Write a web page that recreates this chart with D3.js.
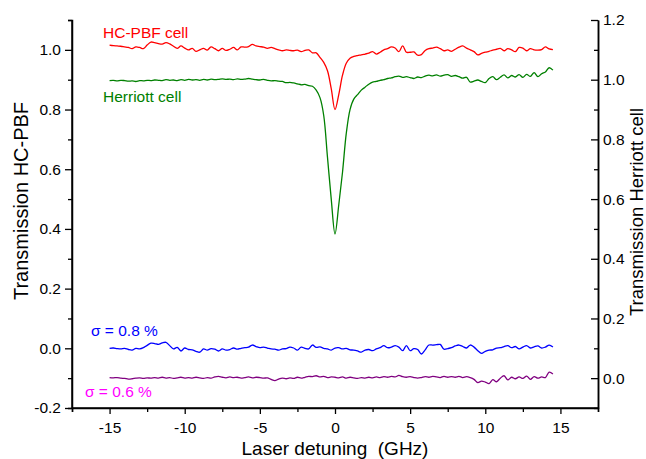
<!DOCTYPE html>
<html>
<head>
<meta charset="utf-8">
<script src="https://cdn.jsdelivr.net/npm/d3@7"></script>
<style>
  body { margin: 0; background: #fff; }
  svg { font-family: Arial, "Liberation Sans", sans-serif; }
</style>
</head>
<body>
<svg id="chart" width="646" height="459"></svg>
<script>

////// data //////

var detuning = [
  -15, -14.75, -14.5, -14.25, -14, -13.75, -13.5, -13.25,
  -13, -12.75, -12.5, -12.25, -12, -11.75, -11.5, -11.25,
  -11, -10.75, -10.5, -10.25, -10, -9.75, -9.5, -9.25,
  -9, -8.75, -8.5, -8.25, -8, -7.75, -7.5, -7.25,
  -7, -6.75, -6.5, -6.25, -6, -5.75, -5.5, -5.25,
  -5, -4.75, -4.5, -4.25, -4, -3.75, -3.5, -3.25,
  -3, -2.75, -2.5, -2.25, -2, -1.75, -1.5, -1.25,
  -1, -0.75, -0.5, -0.25, 0, 0.25, 0.5, 0.75,
  1, 1.25, 1.5, 1.75, 2, 2.25, 2.5, 2.75,
  3, 3.25, 3.5, 3.75, 4, 4.25, 4.5, 4.75,
  5, 5.25, 5.5, 5.75, 6, 6.25, 6.5, 6.75,
  7, 7.25, 7.5, 7.75, 8, 8.25, 8.5, 8.75,
  9, 9.25, 9.5, 9.75, 10, 10.25, 10.5, 10.75,
  11, 11.25, 11.5, 11.75, 12, 12.25, 12.5, 12.75,
  13, 13.25, 13.5, 13.75, 14, 14.25, 14.5
];

// HC-PBF cell transmission (left axis)
var hcpbf = [
  1.016, 1.014, 1.013, 1.012, 1.010, 1.008, 1.004, 1.010,
  1.008, 1.004, 1.016, 1.026, 1.024, 1.021, 1.019, 1.024,
  1.020, 1.012, 1.005, 1.013, 1.006, 1.000, 1.005, 0.995,
  1.000, 1.005, 0.999, 1.010, 1.004, 0.997, 1.005, 0.998,
  1.002, 1.008, 1.000, 1.010, 1.009, 1.011, 1.018, 1.013,
  1.011, 1.009, 1.005, 1.008, 1.004, 1.000, 0.997, 1.000,
  0.998, 0.997, 0.999, 0.994, 0.998, 1.000, 0.990, 0.990,
  0.975, 0.958, 0.930, 0.870, 0.800, 0.850, 0.915, 0.955,
  0.972, 0.978, 0.981, 0.983, 0.986, 0.989, 0.994, 0.986,
  0.992, 1.000, 1.004, 1.010, 1.006, 0.994, 1.013, 0.992,
  0.992, 0.993, 0.982, 0.984, 0.998, 1.004, 1.006, 1.009,
  1.004, 0.997, 1.000, 0.995, 1.002, 1.009, 1.013, 1.006,
  1.000, 0.994, 0.983, 0.988, 0.992, 0.995, 0.999, 1.002,
  1.005, 0.997, 1.004, 1.000, 0.994, 1.008, 1.006, 0.997,
  1.004, 1.000, 0.999, 1.001, 1.010, 1.003, 1.001
];

// Herriott cell transmission (right axis)
var herriott = [
  0.997, 0.998, 0.996, 0.998, 0.997, 0.995, 0.996, 0.994,
  0.997, 0.996, 0.998, 0.997, 0.999, 0.998, 0.997, 1.000,
  0.998, 0.999, 0.997, 1.000, 0.998, 1.001, 0.999, 1.000,
  0.998, 1.001, 0.999, 1.002, 1.000, 1.001, 1.003, 1.001,
  1.002, 1.000, 1.003, 1.001, 1.002, 1.004, 1.002, 1.000,
  0.999, 1.001, 0.998, 0.996, 0.997, 0.995, 0.994, 0.990,
  0.991, 0.989, 0.986, 0.983, 0.984, 0.980, 0.978, 0.965,
  0.940, 0.880, 0.740, 0.600, 0.483, 0.580, 0.690, 0.820,
  0.900, 0.935, 0.950, 0.965, 0.975, 0.985, 0.992, 0.994,
  0.998, 1.000, 1.004, 1.006, 1.010, 1.012, 1.008, 1.010,
  1.007, 1.004, 1.009, 1.007, 1.012, 1.015, 1.013, 1.016,
  1.012, 1.015, 1.017, 1.011, 1.014, 1.010, 1.005, 1.008,
  0.992, 0.995, 0.999, 0.994, 0.990, 1.004, 1.010, 1.000,
  1.008, 1.016, 1.006, 1.014, 1.009, 1.017, 1.008, 1.018,
  1.011, 1.024, 1.010, 1.020, 1.026, 1.040, 1.032
];

// residual HC-PBF (left axis, sigma = 0.8 %)
var residualHC = [
  0.000, 0.001, -0.001, -0.002, 0.000, -0.004, -0.006, 0.000,
  -0.002, 0.002, 0.010, 0.017, 0.016, 0.013, 0.018, 0.020,
  0.009, -0.002, 0.003, -0.009, 0.001, -0.004, -0.005, -0.010,
  -0.013, -0.002, -0.006, -0.001, -0.003, -0.009, -0.002, -0.006,
  -0.004, 0.001, -0.003, 0.000, 0.002, 0.004, 0.011, 0.006,
  0.002, 0.004, 0.001, -0.002, -0.003, -0.006, -0.002, -0.001,
  0.004, 0.001, -0.006, 0.004, 0.000, -0.002, 0.011, 0.003,
  0.005, 0.000, -0.002, -0.006, 0.001, 0.002, -0.002, 0.000,
  -0.005, -0.006, -0.009, -0.013, -0.006, -0.004, -0.008, -0.002,
  0.002, 0.009, 0.002, 0.004, 0.009, 0.004, -0.008, 0.009,
  -0.008, -0.001, -0.004, -0.019, -0.005, 0.011, 0.011, 0.012,
  0.013, -0.003, -0.001, 0.002, 0.008, 0.011, 0.006, 0.001,
  0.011, 0.004, -0.008, -0.017, -0.010, -0.006, -0.005, 0.001,
  0.002, 0.006, 0.009, 0.002, 0.006, -0.002, 0.004, 0.009,
  0.001, 0.005, 0.008, 0.001, 0.004, 0.011, 0.004
];

// residual Herriott (left axis, sigma = 0.6 %)
var residualHer = [
  -0.098, -0.099, -0.098, -0.100, -0.101, -0.103, -0.102, -0.100,
  -0.099, -0.101, -0.099, -0.100, -0.098, -0.100, -0.097, -0.100,
  -0.098, -0.101, -0.099, -0.097, -0.100, -0.098, -0.100, -0.097,
  -0.099, -0.101, -0.098, -0.100, -0.096, -0.094, -0.097, -0.099,
  -0.096, -0.098, -0.097, -0.100, -0.098, -0.096, -0.099, -0.097,
  -0.098, -0.100, -0.099, -0.104, -0.108, -0.103, -0.100, -0.102,
  -0.099, -0.101, -0.097, -0.100, -0.097, -0.094, -0.095, -0.092,
  -0.096, -0.094, -0.098, -0.096, -0.097, -0.099, -0.096, -0.100,
  -0.097, -0.099, -0.101, -0.098, -0.100, -0.097, -0.099, -0.096,
  -0.098, -0.095, -0.097, -0.094, -0.096, -0.091, -0.095, -0.097,
  -0.095, -0.098, -0.100, -0.098, -0.095, -0.097, -0.094, -0.096,
  -0.098, -0.094, -0.097, -0.095, -0.097, -0.094, -0.098, -0.095,
  -0.098, -0.104, -0.115, -0.110, -0.113, -0.118, -0.105, -0.112,
  -0.100, -0.092, -0.106, -0.097, -0.102, -0.096, -0.101, -0.093,
  -0.104, -0.095, -0.100, -0.096, -0.098, -0.080, -0.086
];

var xTicks = [-15, -10, -5, 0, 5, 10, 15];
var xMinor = [-17.5, -12.5, -7.5, -2.5, 2.5, 7.5, 12.5, 17.5];
var leftTicks = [-0.2, 0, 0.2, 0.4, 0.6, 0.8, 1.0];
var leftMinor = [-0.1, 0.1, 0.3, 0.5, 0.7, 0.9, 1.1];
var rightTicks = [0, 0.2, 0.4, 0.6, 0.8, 1.0, 1.2];
var rightMinor = [-0.1, 0.1, 0.3, 0.5, 0.7, 0.9, 1.1];

////// chart //////

var chart_vars = {
  'left': 72,
  'right': 598,
  'top': 20,
  'bottom': 408,
  'tick_font': '15.5px',
  'title_font': '19px',
  'label_font': '15.5px'
};

// plain hyphen for negative numbers, like the original figure
var locale = d3.formatLocale({ decimal: '.', thousands: ',', grouping: [3], currency: ['', ''], minus: '-' });

var svg = d3.select('svg#chart');

var xScale = d3.scaleLinear().domain([-17.5, 17.5]).range([chart_vars.left, chart_vars.right]);
var yLeft = d3.scaleLinear().domain([-0.2, 1.1]).range([chart_vars.bottom, chart_vars.top]);
var yRight = d3.scaleLinear().domain([-0.1, 1.2]).range([chart_vars.bottom, chart_vars.top]);

function makeSeries(values) {
  return detuning.map(function(d, i) { return { x: d, y: values[i] }; });
}

var lineLeft = d3.line()
  .x(function(d) { return xScale(d.x); })
  .y(function(d) { return yLeft(d.y); })
  .curve(d3.curveCatmullRom.alpha(0.5));

var lineRight = d3.line()
  .x(function(d) { return xScale(d.x); })
  .y(function(d) { return yRight(d.y); })
  .curve(d3.curveCatmullRom.alpha(0.5));

var series = [
  { values: hcpbf, line: lineLeft, color: '#ff0000' },
  { values: herriott, line: lineRight, color: '#008000' },
  { values: residualHC, line: lineLeft, color: '#0000ff' },
  { values: residualHer, line: lineLeft, color: '#800080' }
];

svg.append('g').attr('class', 'lines')
  .selectAll('path')
  .data(series)
  .enter()
  .append('path')
  .attr('d', function(s) { return s.line(makeSeries(s.values)); })
  .style('fill', 'none')
  .style('stroke', function(s) { return s.color; })
  .style('stroke-width', 1.3)
  .style('stroke-linejoin', 'round');

// axes
var axis_bottom = d3.axisBottom(xScale).tickValues(xTicks).tickSize(6).tickPadding(8)
  .tickFormat(locale.format('d'));
var axis_bottom_minor = d3.axisBottom(xScale).tickValues(xMinor).tickSize(4).tickFormat('');
var axis_left = d3.axisLeft(yLeft).tickValues(leftTicks).tickSize(7).tickPadding(4)
  .tickFormat(locale.format('.1f'));
var axis_left_minor = d3.axisLeft(yLeft).tickValues(leftMinor).tickSize(4).tickFormat('');
var axis_right = d3.axisRight(yRight).tickValues(rightTicks).tickSizeInner(-7).tickSizeOuter(0)
  .tickPadding(5).tickFormat(locale.format('.1f'));
var axis_right_minor = d3.axisRight(yRight).tickValues(rightMinor).tickSizeInner(-4).tickSizeOuter(0)
  .tickFormat('');

var gx = svg.append('g').attr('class', 'axis axis--x')
  .attr('transform', 'translate(0,' + chart_vars.bottom + ')');
gx.call(axis_bottom);
gx.append('g').call(axis_bottom_minor);

var gy = svg.append('g').attr('class', 'axis axis--y')
  .attr('transform', 'translate(' + chart_vars.left + ',0)');
gy.call(axis_left);
gy.append('g').call(axis_left_minor);

var gr = svg.append('g').attr('class', 'axis axis--r')
  .attr('transform', 'translate(' + chart_vars.right + ',0)');
gr.call(axis_right);
gr.append('g').call(axis_right_minor);

svg.selectAll('.axis path.domain').style('stroke', '#000').style('stroke-width', 1.5);
svg.selectAll('.axis g.tick line').style('stroke', '#000').style('stroke-width', 1.3);
svg.selectAll('.axis g.tick text')
  .style('font-family', 'Arial, "Liberation Sans", sans-serif')
  .style('font-size', chart_vars.tick_font)
  .style('fill', '#000');
// plain axis lines without end caps
svg.selectAll('.axis--x > path.domain, .axis--y > path.domain')
  .attr('d', function() {
    return d3.select(this.parentNode).classed('axis--x')
      ? 'M' + chart_vars.left + ',0H' + chart_vars.right
      : 'M0,' + chart_vars.bottom + 'V' + chart_vars.top;
  });
svg.selectAll('.axis g g path.domain').remove();

// titles
svg.append('text')
  .attr('x', (chart_vars.left + chart_vars.right) / 2)
  .attr('y', 455)
  .attr('text-anchor', 'middle')
  .style('font-size', chart_vars.title_font)
  .style('white-space', 'pre')
  .text('Laser detuning  (GHz)');

svg.append('text')
  .attr('transform', 'translate(28,201) rotate(-90)')
  .attr('text-anchor', 'middle')
  .style('font-size', '20px')
  .text('Transmission HC-PBF');

svg.append('text')
  .attr('transform', 'translate(643,212) rotate(-90)')
  .attr('text-anchor', 'middle')
  .style('font-size', '18.5px')
  .text('Transmission Herriott cell');

// curve labels
var labels = [
  { text: 'HC-PBF cell', x: 103, y: 38, color: '#ff0000' },
  { text: 'Herriott cell', x: 103, y: 101.5, color: '#008000' },
  { text: '\u03c3 = 0.8 %', x: 91, y: 336, color: '#0000ff' },
  { text: '\u03c3 = 0.6 %', x: 85, y: 397, color: '#ff00ff' }
];

svg.append('g').selectAll('text')
  .data(labels)
  .enter()
  .append('text')
  .attr('x', function(d) { return d.x; })
  .attr('y', function(d) { return d.y; })
  .style('font-size', chart_vars.label_font)
  .style('fill', function(d) { return d.color; })
  .text(function(d) { return d.text; });

</script>
</body>
</html>
